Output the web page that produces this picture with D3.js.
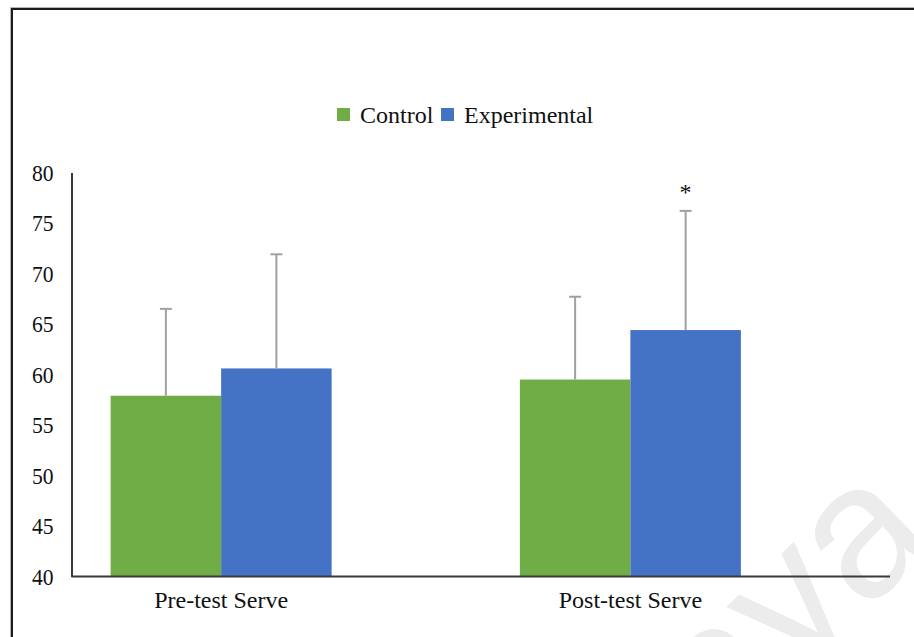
<!DOCTYPE html>
<html>
<head>
<meta charset="utf-8">
<script src="https://cdn.jsdelivr.net/npm/d3@7"></script>
<style>
  html, body { margin: 0; padding: 0; background: #fff; }
  svg { display: block; }
  text { font-family: "Liberation Serif", "Times New Roman", serif; fill: #111; }
</style>
</head>
<body>
<svg id="chart" width="914" height="637"></svg>
<script>
// Serve scores, group means with standard deviations
const categories = ["Pre-test Serve", "Post-test Serve"];
const seriesNames = ["Control", "Experimental"];
const controlMeans = [57.9, 59.5];
const experimentalMeans = [60.6, 64.4];
const controlSD = [8.6, 8.2];
const experimentalSD = [11.3, 11.8];
const yTicks = [40, 45, 50, 55, 60, 65, 70, 75, 80];
const significant = [false, true]; // experimental vs control, marked with *

const colors = { Control: "#70AD47", Experimental: "#4472C4" };

const W = 914, H = 637;
const svg = d3.select("#chart");

// faint page watermark, clipped to the page
svg.append("defs").append("clipPath").attr("id", "page")
  .append("rect").attr("width", W).attr("height", H);
svg.append("g").attr("clip-path", "url(#page)")
  .append("text")
  .attr("transform", "translate(940,540) rotate(-44)")
  .attr("text-anchor", "end")
  .style("font-family", "'Liberation Sans', Arial, sans-serif")
  .style("font-size", "190px")
  .style("fill", "#ececec")
  .text("Malaya");

// frame
svg.append("path").attr("d", `M10.5,${H} V7.5 H${W}`)
  .attr("fill", "none").attr("stroke", "#b5b5b5").attr("stroke-width", 1);
svg.append("path").attr("d", `M12,${H} V9 H${W}`)
  .attr("fill", "none").attr("stroke", "#1c1c1c").attr("stroke-width", 2);

const plot = { left: 71.5, right: 890, top: 172.5, bottom: 576.5 };

const y = d3.scaleLinear().domain([40, 80]).range([plot.bottom, plot.top]);

const x0 = d3.scaleBand().domain(categories).range([16.5, 835]).padding(0);
const groupW = x0.bandwidth() * 0.54;
const x1 = d3.scaleBand().domain(seriesNames).range([0, groupW]).padding(0);

const rows = categories.map((c, i) => ({
  cat: c,
  sig: significant[i],
  bars: [
    { name: "Control", mean: controlMeans[i], sd: controlSD[i] },
    { name: "Experimental", mean: experimentalMeans[i], sd: experimentalSD[i] }
  ]
}));

const groups = svg.append("g").selectAll("g").data(rows).join("g")
  .attr("transform", d => `translate(${x0(d.cat) + (x0.bandwidth() - groupW) / 2},0)`);

groups.selectAll("rect").data(d => d.bars).join("rect")
  .attr("x", d => x1(d.name))
  .attr("y", d => y(d.mean))
  .attr("width", x1.bandwidth())
  .attr("height", d => y(40) - y(d.mean))
  .attr("fill", d => colors[d.name]);

// upper error bars
const err = groups.selectAll("g.err").data(d => d.bars).join("g").attr("class", "err");
err.append("line")
  .attr("x1", d => x1(d.name) + x1.bandwidth() / 2)
  .attr("x2", d => x1(d.name) + x1.bandwidth() / 2)
  .attr("y1", d => y(d.mean))
  .attr("y2", d => y(d.mean + d.sd))
  .attr("stroke", "#a0a0a0").attr("stroke-width", 2);
err.append("line")
  .attr("x1", d => x1(d.name) + x1.bandwidth() / 2 - 6)
  .attr("x2", d => x1(d.name) + x1.bandwidth() / 2 + 6)
  .attr("y1", d => y(d.mean + d.sd))
  .attr("y2", d => y(d.mean + d.sd))
  .attr("stroke", "#a0a0a0").attr("stroke-width", 2);

// significance marker above the experimental bar
groups.filter(d => d.sig).append("text")
  .attr("transform", d => {
    const b = d.bars[1];
    return `translate(${x1(b.name) + x1.bandwidth() / 2},${y(b.mean + b.sd) - 11})`;
  })
  .attr("text-anchor", "middle")
  .style("font-size", "24px")
  .text("*");

// y axis
const yAxis = svg.append("g")
  .attr("transform", `translate(${plot.left},0)`)
  .call(d3.axisLeft(y).tickValues(yTicks).tickSize(0).tickSizeOuter(0).tickPadding(18));
yAxis.select(".domain").attr("stroke", "#3a3a3a").attr("stroke-width", 2);
yAxis.selectAll("text")
  .style("font-family", "'Liberation Serif', serif")
  .style("font-size", "24px")
  .attr("fill", "#222")
  .attr("transform", "scale(0.9,1)")
  .attr("x", -18 / 0.9);

// x axis labels (category band axis) and baseline
const xAxis = svg.append("g")
  .attr("transform", `translate(0,${plot.bottom})`)
  .call(d3.axisBottom(x0).tickSize(0).tickPadding(14));
xAxis.select(".domain").remove();
xAxis.selectAll("text")
  .style("font-family", "'Liberation Serif', serif")
  .style("font-size", "24px")
  .attr("fill", "#111");

svg.append("line")
  .attr("x1", plot.left).attr("x2", plot.right)
  .attr("y1", y(40)).attr("y2", y(40))
  .attr("stroke", "#3a3a3a").attr("stroke-width", 2);

// legend
const legend = svg.append("g").attr("transform", "translate(337,108)");
const items = [
  { name: seriesNames[0], dx: 0 },
  { name: seriesNames[1], dx: 104 }
];
const li = legend.selectAll("g").data(items).join("g")
  .attr("transform", d => `translate(${d.dx},0)`);
li.append("rect").attr("width", 13).attr("height", 13).attr("fill", d => colors[d.name]);
li.append("text").attr("x", 23).attr("y", 15)
  .style("font-size", "24px")
  .text(d => d.name);
</script>
</body>
</html>
